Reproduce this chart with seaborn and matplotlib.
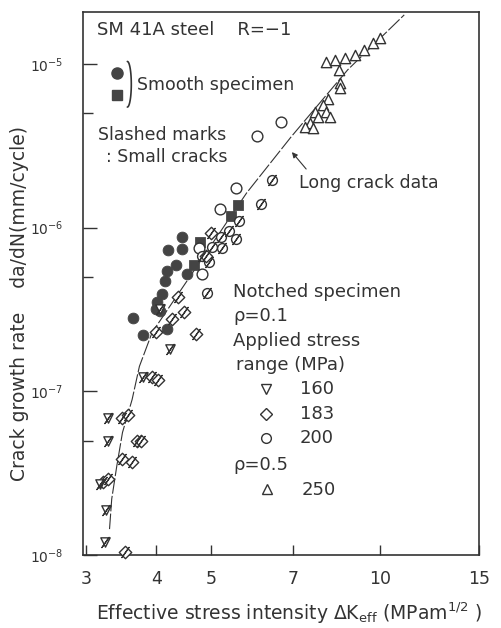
import numpy as np
import pandas as pd
import seaborn as sns
import matplotlib.pyplot as plt
from matplotlib.ticker import FixedLocator, NullFormatter

# smooth specimen (filled marks)
smooth_circle_dk = [4.44, 4.20, 4.44, 4.34, 4.18, 4.54, 4.15, 4.10, 4.01, 4.00, 4.05, 3.63, 3.78, 4.17]
smooth_circle_rate = [8.8e-7, 7.3e-7, 7.4e-7, 5.9e-7, 5.4e-7, 5.2e-7, 4.7e-7, 3.9e-7, 3.5e-7, 3.2e-7, 3.1e-7, 2.8e-7, 2.2e-7, 2.4e-7]
smooth_square_dk = [5.58, 5.42, 4.78, 4.67]
smooth_square_rate = [1.38e-6, 1.17e-6, 8.2e-7, 5.9e-7]

# notched, 200 MPa
s200_dk = [6.67, 6.03, 5.54, 5.19, 4.82, 4.76]
s200_rate = [4.4e-6, 3.6e-6, 1.75e-6, 1.29e-6, 5.2e-7, 7.5e-7]
s200_small_dk = [6.41, 6.13, 5.60, 5.54, 5.38, 5.23, 5.02, 4.82, 4.96, 4.92, 5.21]
s200_small_rate = [1.96e-6, 1.40e-6, 1.09e-6, 8.5e-7, 9.5e-7, 7.5e-7, 7.6e-7, 6.7e-7, 6.2e-7, 4.0e-7, 8.8e-7]

# notched, 183 MPa (small cracks)
s183_dk = [3.51, 3.21, 3.28, 3.47, 3.62, 3.69, 3.76, 3.48, 3.56, 3.92, 4.02, 4.70, 4.00, 4.27, 4.48, 4.37, 5.00, 4.90]
s183_rate = [1.04e-8, 2.8e-8, 2.9e-8, 3.85e-8, 3.7e-8, 4.96e-8, 4.96e-8, 6.9e-8, 7.2e-8, 1.22e-7, 1.18e-7, 2.23e-7, 2.3e-7, 2.75e-7, 3.03e-7, 3.74e-7, 9.3e-7, 6.7e-7]

# notched, 160 MPa (small cracks)
s160_dk = [3.24, 3.25, 3.17, 3.28, 3.28, 3.78, 4.22, 4.05]
s160_rate = [1.2e-8, 1.88e-8, 2.7e-8, 4.96e-8, 6.9e-8, 1.23e-7, 1.8e-7, 3.2e-7]

# notched rho=0.5, 250 MPa
s250_dk = [8.01, 8.31, 8.65, 9.01, 9.38, 9.70, 10.0, 8.44, 8.48, 8.48, 8.08, 7.91, 7.66, 8.01, 7.76, 8.14, 7.51, 7.36, 7.60]
s250_rate = [1.03e-5, 1.06e-5, 1.09e-5, 1.13e-5, 1.22e-5, 1.34e-5, 1.44e-5, 9.2e-6, 7.65e-6, 7.1e-6, 6.1e-6, 5.6e-6, 5.1e-6, 5.1e-6, 4.7e-6, 4.7e-6, 4.37e-6, 4.13e-6, 4.07e-6]

# long crack curve
long_dk = [3.30, 3.33, 3.40, 3.48, 3.62, 3.73, 3.93, 5.79, 6.95, 8.76, 11.04]
long_rate = [1.44e-8, 2.2e-8, 3.5e-8, 5.6e-8, 8.9e-8, 1.42e-7, 2.29e-7, 1.63e-6, 3.59e-6, 9.2e-6, 1.99e-5]

x_ticks = [3, 4, 5, 7, 10, 15]
y_ticks = [1e-8, 1e-7, 1e-6, 1e-5]
y_ticklabels = ['$10^{-8}$', '$10^{-7}$', '$10^{-6}$', '$10^{-5}$']

ink = '#333333'

sns.set_theme(style='ticks')
plt.rcParams['font.family'] = ['DejaVu Sans']
plt.rcParams['mathtext.default'] = 'regular'

fig = plt.figure(figsize=(5.02, 6.28), dpi=100)
ax = fig.add_axes([0.1653, 0.1162, 0.789, 0.8646])
ax.set_xscale('log')
ax.set_yscale('log')

def df(dk, rate):
    return pd.DataFrame({'dk': dk, 'rate': rate})

sns.lineplot(data=df(long_dk, long_rate), x='dk', y='rate', sort=False, estimator=None,
             color=ink, lw=0.8, ax=ax, linestyle=(0, (14, 2)))

kw = dict(ax=ax, legend=False, clip_on=False, zorder=3)
sns.scatterplot(data=df(smooth_circle_dk, smooth_circle_rate), x='dk', y='rate', marker='o',
                s=60, color='#444444', edgecolor='#444444', **kw)
sns.scatterplot(data=df(smooth_square_dk, smooth_square_rate), x='dk', y='rate', marker='s',
                s=50, color='#444444', edgecolor='#444444', **kw)
sns.scatterplot(data=df(s200_dk, s200_rate), x='dk', y='rate', marker='o', s=60,
                facecolor='white', edgecolor=ink, linewidth=1.0, **kw)
sns.scatterplot(data=df(s200_small_dk, s200_small_rate), x='dk', y='rate', marker='o', s=50,
                facecolor='white', edgecolor=ink, linewidth=1.0, **kw)
sns.scatterplot(data=df(s183_dk, s183_rate), x='dk', y='rate', marker='D', s=40,
                facecolor='white', edgecolor=ink, linewidth=1.0, **kw)
sns.scatterplot(data=df(s160_dk, s160_rate), x='dk', y='rate', marker='v', s=45,
                facecolor='white', edgecolor=ink, linewidth=1.0, **kw)
sns.scatterplot(data=df(s250_dk, s250_rate), x='dk', y='rate', marker='^', s=55,
                facecolor='white', edgecolor=ink, linewidth=1.0, **kw)

# slashes on small-crack marks
for dk, rate in [(s200_small_dk, s200_small_rate), (s183_dk, s183_rate), (s160_dk, s160_rate)]:
    ax.scatter(dk, rate, marker=(2, 2, -35), s=80, c=ink, linewidths=0.9,
               zorder=5, clip_on=False)

ax.set_xlim(2.96, 15)
ax.set_ylim(1e-8, 2.07e-5)
ax.xaxis.set_major_locator(FixedLocator(x_ticks))
ax.set_xticklabels([str(t) for t in x_ticks])
ax.xaxis.set_minor_locator(FixedLocator([]))
ax.yaxis.set_major_locator(FixedLocator(y_ticks))
ax.set_yticklabels(y_ticklabels)
ax.yaxis.set_minor_locator(FixedLocator([5e-8, 5e-7, 5e-6]))
ax.yaxis.set_minor_formatter(NullFormatter())
ax.tick_params(axis='x', which='major', direction='in', length=7, width=1, pad=11,
               labelsize=12.5, colors=ink)
ax.tick_params(axis='y', which='major', direction='in', length=10, width=1, pad=14,
               labelsize=10, colors=ink)
ax.tick_params(axis='y', which='minor', direction='in', length=7, width=1, colors=ink)
for s in ax.spines.values():
    s.set_color(ink)
    s.set_linewidth(1.2)
ax.set_xlabel('')
ax.set_ylabel('')

fig.text(0.575, 0.024, 'Effective stress intensity $\\Delta K_{eff}$ (MPam$^{1/2}$ )',
         ha='center', va='center', fontsize=13.5, color=ink)
fig.text(0.038, 0.516, 'Crack growth rate    da/dN(mm/cycle)', rotation=90,
         ha='center', va='center', fontsize=13.5, color=ink)

T = ax.transAxes
txt = dict(transform=T, fontsize=12.5, color=ink, va='center', ha='left')
txt2 = dict(transform=T, fontsize=13, color=ink, va='center', ha='left')
ax.text(0.035, 0.967, 'SM 41A steel    R=−1', **txt2)
ax.plot([0.086], [0.888], 'o', ms=8, color='#444444', transform=T)
ax.plot([0.086], [0.847], 's', ms=7, color='#444444', transform=T)
t = np.linspace(-np.pi / 2, np.pi / 2, 30)
ax.plot(0.112 + 0.010 * np.cos(t), 0.867 + 0.042 * np.sin(t), color=ink, lw=1.2, transform=T)
ax.text(0.136, 0.866, 'Smooth specimen', **txt)
ax.text(0.038, 0.773, 'Slashed marks', **txt)
ax.text(0.058, 0.733, ': Small cracks', **txt)

ax.annotate('', xy=(0.523, 0.746), xytext=(0.568, 0.707), xycoords=T,
            arrowprops=dict(arrowstyle='-|>', color=ink, lw=0.8, mutation_scale=8))
ax.text(0.545, 0.685, 'Long crack data', **txt)

ax.text(0.379, 0.484, 'Notched specimen', **txt2)
ax.text(0.379, 0.440, 'ρ=0.1', **txt2)
ax.text(0.379, 0.394, 'Applied stress', **txt2)
ax.text(0.386, 0.350, 'range (MPa)', **txt2)
leg_marks = [('v', 0.306, '160'), ('D', 0.260, '183'), ('o', 0.215, '200')]
for m, fy, lab in leg_marks:
    ax.plot([0.462], [fy], m, ms=7 if m != 'D' else 6, mfc='none', mec=ink, mew=1, transform=T)
    ax.text(0.548, fy, lab, **txt2)
ax.text(0.379, 0.166, 'ρ=0.5', **txt2)
ax.plot([0.465], [0.122], '^', ms=7, mfc='none', mec=ink, mew=1, transform=T)
ax.text(0.553, 0.120, '250', **txt2)

fig.savefig('out.png', dpi=100, facecolor='white')
